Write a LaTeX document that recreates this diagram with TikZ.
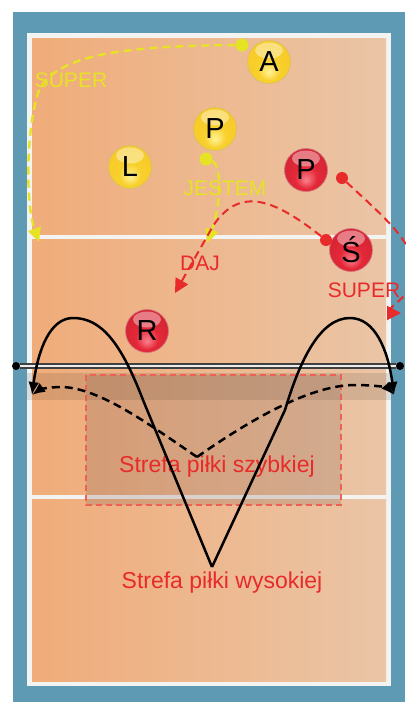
\documentclass[tikz,border=0pt]{standalone}
\usepackage{fontspec}
\setmainfont{Liberation Sans}
\usetikzlibrary{arrows.meta}
\definecolor{rimblue}{RGB}{95,154,180}
\definecolor{courtleft}{RGB}{240,172,122}
\definecolor{courtright}{RGB}{234,197,166}
\definecolor{courtline}{RGB}{243,243,241}
\definecolor{callyellow}{RGB}{230,226,36}
\definecolor{callred}{RGB}{232,42,42}
\definecolor{zonered}{RGB}{236,96,86}
\definecolor{zonefill}{RGB}{125,90,80}
\definecolor{ygold}{RGB}{248,208,44}
\definecolor{ylight}{RGB}{255,242,150}
\definecolor{rdeep}{RGB}{228,40,56}
\definecolor{rlight}{RGB}{250,128,140}
\pgfdeclareradialshading{yballshade}{\pgfpoint{0bp}{-12bp}}{color(0bp)=(ylight); color(13bp)=(ygold); color(25bp)=(ygold!94!orange); color(50bp)=(ygold!94!orange)}
\pgfdeclareradialshading{rballshade}{\pgfpoint{0bp}{-12bp}}{color(0bp)=(rlight); color(13bp)=(rdeep); color(25bp)=(rdeep!94!black); color(50bp)=(rdeep!94!black)}
\tikzset{
  ball/.style={circle,minimum size=43pt,inner sep=0pt,line width=0.7pt,
    font=\fontsize{29}{29}\selectfont,
    path picture={\fill[white,opacity=.4]
      ([yshift=-10pt]path picture bounding box.north) ellipse (14pt and 8pt);}},
  yball/.style={ball,shading=yballshade,draw=ygold!80!black!70},
  rball/.style={ball,shading=rballshade,draw=rdeep!80!black!60},
  ydot/.style={circle,fill=callyellow,minimum size=13pt,inner sep=0pt},
  rdot/.style={circle,fill=callred,minimum size=12pt,inner sep=0pt},
  ycall/.style={callyellow,line width=2.4pt,dash pattern=on 8pt off 5pt,
    -{Triangle[length=14pt,width=13pt]}},
  rcall/.style={callred,line width=2pt,dash pattern=on 8pt off 5pt,
    -{Triangle[length=14pt,width=14pt]}},
  setline/.style={line width=2.5pt,-{Latex[length=13pt,width=11pt]}},
  fastline/.style={setline,dash pattern=on 8pt off 5pt},
  calltext/.style={font=\fontsize{21}{21}\selectfont,inner sep=0pt},
  zonetext/.style={font=\fontsize{23}{23}\selectfont,callred,inner sep=0pt},
  netend/.style={circle,fill=black,minimum size=8pt,inner sep=0pt}
}
\begin{document}
\begin{tikzpicture}[x=1pt,y=-1pt]
  \useasboundingbox (0,0) rectangle (406,702);
  \clip (0,0) rectangle (406,702);
  % court
  \fill[rimblue] (13,12) rectangle (405,702);
  \fill[courtline] (27,33) rectangle (391,686);
  \shade[left color=courtleft,right color=courtright] (32,38) rectangle (386,681);
  \fill[courtline] (32,235) rectangle (386,239);
  \fill[courtline] (32,495) rectangle (386,499);
  % shadow under the net
  \fill[black,opacity=.1] (27,373) rectangle (391,400);
  % quick set zone
  \draw[zonered,line width=1.5pt,dash pattern=on 6pt off 4pt,
    fill=zonefill,fill opacity=.22] (86,375) rectangle (341,505);
  % net
  \node[netend] (netL) at (16,366) {};
  \node[netend] (netR) at (400,366) {};
  \draw[black!75,line width=1.4pt,double=white!85!gray,double distance=2.4pt]
    (netL) -- (netR);
  \node[zonetext] (zoneFast) at (217,467) {Strefa piłki szybkiej};
  \node[zonetext] (zoneHigh) at (222,583) {Strefa piłki wysokiej};
  % sets
  \coordinate (highV) at (212,567);
  \coordinate (fastV) at (197,457);
  \coordinate (leftEnd) at (32,395);
  \coordinate (rightEnd) at (394,395);
  \draw[setline] (highV) -- (143,400) .. controls (120,340) and (100,318)
    .. (73,318) .. controls (50,318) and (38,350) .. (leftEnd);
  \draw[setline] (highV) -- (285,410) .. controls (300,360) and (320,318)
    .. (350,318) .. controls (375,318) and (388,350) .. (rightEnd);
  \draw[fastline] (fastV) .. controls (150,425) and (100,388) .. (62,387)
    .. controls (47,387) and (39,390) .. (leftEnd);
  \draw[fastline] (fastV) .. controls (250,420) and (310,385) .. (355,385)
    .. controls (376,385) and (388,388) .. (rightEnd);
  % players
  \node[yball] (atak) at (269,62) {A};
  \node[yball] (przyjY) at (215,129) {P};
  \node[yball] (libero) at (130,167) {L};
  \node[rball] (przyjR) at (306,170) {P};
  \node[rball] (srodek) at (351,250) {Ś};
  \node[rball] (rozgr) at (147,331) {R};
  % calls
  \node[ydot] (callA) at (242,45) {};
  \node[ydot] (callP) at (206,159) {};
  \node[rdot] (callS) at (326,240) {};
  \node[rdot] (callPr) at (342,178) {};
  \draw[ycall] (callA) .. controls (120,46) and (45,55) .. (36,100)
    .. controls (26,140) and (26,205) .. (39,242);
  \draw[ycall] (callP) .. controls (222,165) and (221,205) .. (207,243);
  \draw[rcall] (callS) .. controls (275,200) and (240,185) .. (213,226)
    -- (175,293);
  \draw[rcall] (callPr) .. controls (385,218) and (418,245) .. (414,276)
    .. controls (411,296) and (394,302) .. (387,313) -- (401,313);
  \node[calltext,callyellow] (superY) at (71,80) {SUPER};
  \node[calltext,callyellow] (jestem) at (225,188) {JESTEM};
  \node[calltext,callred] (daj) at (200,263) {DAJ};
  \node[calltext,callred] (superR) at (364,290) {SUPER};
\end{tikzpicture}
\end{document}
